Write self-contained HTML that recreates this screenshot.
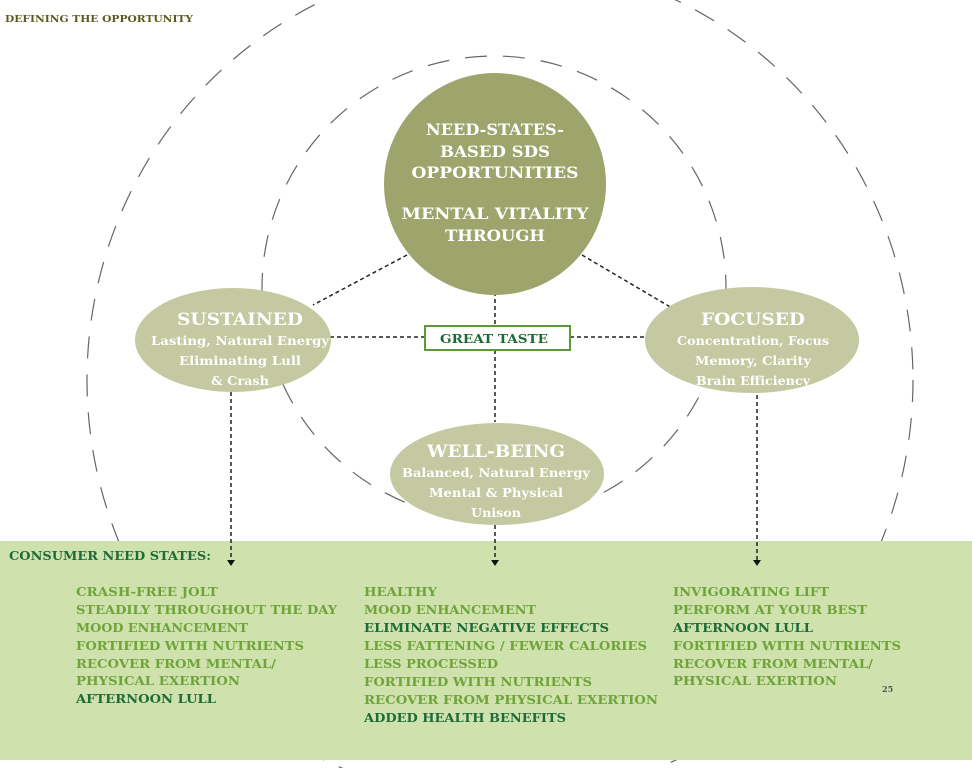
<!DOCTYPE html>
<html><head><meta charset="utf-8"><style>
html,body{margin:0;padding:0;background:#fff;}
svg{display:block;}
text{font-family:"DejaVu Serif","Liberation Serif",serif;font-weight:bold;}
</style></head><body>
<svg width="972" height="768" viewBox="0 0 972 768" xmlns="http://www.w3.org/2000/svg">
<rect x="0" y="0" width="972" height="768" fill="#fff"/>
<!-- outer dashed ellipse -->
<ellipse cx="500" cy="380" rx="413" ry="420" fill="none" stroke="#666" stroke-width="1.2" stroke-dasharray="22 16"/>
<!-- inner dashed circle -->
<circle cx="494" cy="288" r="232" fill="none" stroke="#666" stroke-width="1.2" stroke-dasharray="22 16"/>
<!-- green band -->
<rect x="0" y="541" width="972" height="219" fill="#cfe2ad"/>
<!-- connectors -->
<g stroke="#222" stroke-width="1.5" stroke-dasharray="4 3" fill="none">
<line x1="407" y1="255" x2="313" y2="305"/>
<line x1="582" y1="255" x2="672" y2="308"/>
<line x1="495" y1="292" x2="495" y2="326"/>
<line x1="495" y1="350" x2="495" y2="422"/>
<line x1="330" y1="337" x2="425" y2="337"/>
<line x1="570" y1="337" x2="645" y2="337"/>
<line x1="231" y1="392" x2="231" y2="560"/>
<line x1="495" y1="525" x2="495" y2="560"/>
<line x1="757" y1="395" x2="757" y2="560"/>
</g>
<g fill="#111">
<polygon points="227,560 235,560 231,566"/>
<polygon points="491,560 499,560 495,566"/>
<polygon points="753,560 761,560 757,566"/>
</g>
<!-- nodes -->
<circle cx="495" cy="184" r="111" fill="#9ea56c"/>
<ellipse cx="233" cy="340" rx="98" ry="52" fill="#c5c9a1"/>
<ellipse cx="752" cy="340" rx="107" ry="53" fill="#c5c9a1"/>
<ellipse cx="497" cy="474" rx="107" ry="51" fill="#c5c9a1"/>
<rect x="425" y="326" width="145" height="24" fill="#fff" stroke="#5a9a3a" stroke-width="2"/>
<text x="494" y="343" text-anchor="middle" font-size="12.5" fill="#1e6b36" textLength="108" lengthAdjust="spacingAndGlyphs">GREAT TASTE</text>
<g fill="#fff" text-anchor="middle">
<text x="495" y="135" font-size="15.5" textLength="138" lengthAdjust="spacingAndGlyphs">NEED-STATES-</text>
<text x="495" y="157" font-size="15.5" textLength="110" lengthAdjust="spacingAndGlyphs">BASED SDS</text>
<text x="495" y="178" font-size="15.5" textLength="167" lengthAdjust="spacingAndGlyphs">OPPORTUNITIES</text>
<text x="495" y="219" font-size="15.5" textLength="187" lengthAdjust="spacingAndGlyphs">MENTAL VITALITY</text>
<text x="495" y="241" font-size="15.5" textLength="100" lengthAdjust="spacingAndGlyphs">THROUGH</text>
<text x="240" y="325" font-size="17" textLength="126" lengthAdjust="spacingAndGlyphs">SUSTAINED</text>
<text x="240" y="345" font-size="12" textLength="178" lengthAdjust="spacingAndGlyphs">Lasting, Natural Energy</text>
<text x="240" y="365" font-size="12" textLength="122" lengthAdjust="spacingAndGlyphs">Eliminating Lull</text>
<text x="240" y="385" font-size="12" textLength="58" lengthAdjust="spacingAndGlyphs">&amp; Crash</text>
<text x="753" y="325" font-size="17" textLength="104" lengthAdjust="spacingAndGlyphs">FOCUSED</text>
<text x="753" y="345" font-size="12" textLength="152" lengthAdjust="spacingAndGlyphs">Concentration, Focus</text>
<text x="753" y="365" font-size="12" textLength="116" lengthAdjust="spacingAndGlyphs">Memory, Clarity</text>
<text x="753" y="385" font-size="12" textLength="114" lengthAdjust="spacingAndGlyphs">Brain Efficiency</text>
<text x="496" y="457" font-size="17" textLength="138" lengthAdjust="spacingAndGlyphs">WELL-BEING</text>
<text x="496" y="477" font-size="12" textLength="188" lengthAdjust="spacingAndGlyphs">Balanced, Natural Energy</text>
<text x="496" y="497" font-size="12" textLength="134" lengthAdjust="spacingAndGlyphs">Mental &amp; Physical</text>
<text x="496" y="517" font-size="12" textLength="50" lengthAdjust="spacingAndGlyphs">Unison</text>
</g>
<text x="5" y="22" font-size="9.5" fill="#5a5a1e" textLength="188" lengthAdjust="spacingAndGlyphs">DEFINING THE OPPORTUNITY</text>
<text x="9" y="560" font-size="12" fill="#1e6b36" textLength="202" lengthAdjust="spacingAndGlyphs">CONSUMER NEED STATES:</text>
<g font-size="12" fill="#6fa43a">
<text x="76" y="596" textLength="142" lengthAdjust="spacingAndGlyphs">CRASH-FREE JOLT</text>
<text x="76" y="614" textLength="261" lengthAdjust="spacingAndGlyphs">STEADILY THROUGHOUT THE DAY</text>
<text x="76" y="632" textLength="172" lengthAdjust="spacingAndGlyphs">MOOD ENHANCEMENT</text>
<text x="76" y="650" textLength="228" lengthAdjust="spacingAndGlyphs">FORTIFIED WITH NUTRIENTS</text>
<text x="76" y="668" textLength="200" lengthAdjust="spacingAndGlyphs">RECOVER FROM MENTAL/</text>
<text x="76" y="685" textLength="164" lengthAdjust="spacingAndGlyphs">PHYSICAL EXERTION</text>
<text x="76" y="703" fill="#1e6b36" textLength="140" lengthAdjust="spacingAndGlyphs">AFTERNOON LULL</text>
<text x="364" y="596" textLength="73" lengthAdjust="spacingAndGlyphs">HEALTHY</text>
<text x="364" y="614" textLength="172" lengthAdjust="spacingAndGlyphs">MOOD ENHANCEMENT</text>
<text x="364" y="632" fill="#1e6b36" textLength="245" lengthAdjust="spacingAndGlyphs">ELIMINATE NEGATIVE EFFECTS</text>
<text x="364" y="650" textLength="283" lengthAdjust="spacingAndGlyphs">LESS FATTENING / FEWER CALORIES</text>
<text x="364" y="668" textLength="134" lengthAdjust="spacingAndGlyphs">LESS PROCESSED</text>
<text x="364" y="686" textLength="228" lengthAdjust="spacingAndGlyphs">FORTIFIED WITH NUTRIENTS</text>
<text x="364" y="704" textLength="294" lengthAdjust="spacingAndGlyphs">RECOVER FROM PHYSICAL EXERTION</text>
<text x="364" y="722" fill="#1e6b36" textLength="202" lengthAdjust="spacingAndGlyphs">ADDED HEALTH BENEFITS</text>
<text x="673" y="596" textLength="156" lengthAdjust="spacingAndGlyphs">INVIGORATING LIFT</text>
<text x="673" y="614" textLength="194" lengthAdjust="spacingAndGlyphs">PERFORM AT YOUR BEST</text>
<text x="673" y="632" fill="#1e6b36" textLength="140" lengthAdjust="spacingAndGlyphs">AFTERNOON LULL</text>
<text x="673" y="650" textLength="228" lengthAdjust="spacingAndGlyphs">FORTIFIED WITH NUTRIENTS</text>
<text x="673" y="668" textLength="200" lengthAdjust="spacingAndGlyphs">RECOVER FROM MENTAL/</text>
<text x="673" y="685" textLength="164" lengthAdjust="spacingAndGlyphs">PHYSICAL EXERTION</text>
</g>
<text x="882" y="692" font-size="8" font-weight="normal" fill="#555">25</text>
</svg>
</body></html>
